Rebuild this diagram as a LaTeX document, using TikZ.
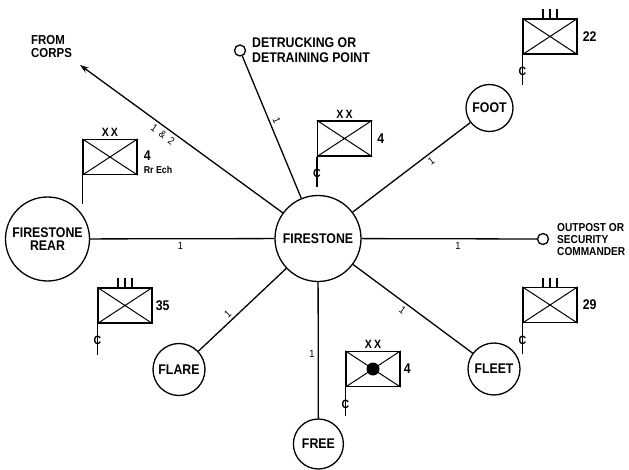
\documentclass[tikz,border=0pt]{standalone}
\usepackage{fontspec}
\setmainfont{Liberation Sans}[FakeStretch=0.88]
\usetikzlibrary{arrows.meta,positioning,calc}

\begin{document}
\begin{tikzpicture}[
  x=1pt, y=-1pt,
  post/.style={draw, circle, line width=1.3pt, inner sep=0pt, align=center, font=\bfseries\fontsize{14}{13}\selectfont},
  stop/.style={draw, circle, minimum size=11pt, inner sep=0pt, line width=1.3pt},
  unit/.style={draw, minimum width=54pt, minimum height=35pt, inner sep=0pt, line width=1.3pt},
  link/.style={line width=1.3pt},
  cross/.style={line width=1pt},
  rte/.style={sloped, font=\fontsize{10.5}{10}\selectfont, inner sep=3pt},
  note/.style={font=\bfseries\fontsize{14}{15}\selectfont, align=left, inner sep=0pt},
  echl/.style={font=\bfseries\fontsize{12}{12}\selectfont, inner sep=0pt},
  numl/.style={font=\bfseries\fontsize{14}{14}\selectfont, inner sep=0pt},
  cmark/.style={font=\bfseries\fontsize{12}{12}\selectfont, inner sep=0pt},
  arr/.style={-{Stealth[length=9pt, width=6pt]}, line width=1.3pt},
]
\useasboundingbox (0,0) rectangle (629,470);

% command posts
\node[post, minimum size=86pt] (fire) at (318,238.5) {FIRESTONE};
\node[post, minimum size=84pt] (rear) at (47.5,239) {FIRESTONE\\REAR};
\node[post, minimum size=47pt] (foot) at (489.5,108) {FOOT};
\node[post, minimum size=52pt] (flare) at (179,369.5) {FLARE};
\node[post, minimum size=52pt] (fleet) at (494,369) {FLEET};
\node[post, minimum size=50pt] (free) at (318.4,444) {FREE};
\node[stop] (detrain) at (240,50.5) {};
\node[stop] (outpost) at (543,239) {};
\coordinate (corps) at (80,65);

\node[note, font=\bfseries\fontsize{13}{13}\selectfont, anchor=north west] (corpslbl) at (31,35) {FROM\\CORPS};
\node[note, anchor=north west] (detrainlbl) at (252,38) {DETRUCKING OR\\DETRAINING POINT};
\node[note, font=\bfseries\fontsize{11.5}{12}\selectfont, anchor=north west] (outpostlbl) at (557,223) {OUTPOST OR\\SECURITY\\COMMANDER};

% lines of communication
\draw[link] (rear) -- node[rte, below, pos=0.49] {1} (fire);
\draw[link] (fire) -- node[rte, below, pos=0.55] {1} (outpost);
\draw[link] (fire) -- node[rte, below, pos=0.63] {1} (foot);
\draw[link] (fire) -- node[rte, above, pos=0.53] {1} (detrain);
\draw[link] (fire) -- node[rte, above, pos=0.61] {1} (flare);
\draw[link] (fire) -- node[rte, below, pos=0.45] {1} (fleet);
\draw[link] (fire) -- node[font=\fontsize{10.5}{10}\selectfont, left, pos=0.53, inner sep=3pt] {1} (free);
\draw[arr] (fire) -- node[rte, below, pos=0.57] {1\hspace{5pt}\&\hspace{5pt}2} (corps);

% unit flags
\node[unit] (u4rr) at (110,157) {};
\node[unit] (u22) at (550,36.5) {};
\node[unit] (u4) at (344.5,138.5) {};
\node[unit] (u35) at (125,305.5) {};
\node[unit] (u4d) at (373,369) {};
\node[unit] (u29) at (550,305) {};
\node[circle, fill, minimum size=13pt, inner sep=0pt] (dot) at (u4d.center) {};

\draw[cross] (u4rr.north west) -- (u4rr.south east) (u4rr.north east) -- (u4rr.south west);
\draw[cross] (u22.north west) -- (u22.south east) (u22.north east) -- (u22.south west);
\draw[cross] (u4.north west) -- (u4.south east) (u4.north east) -- (u4.south west);
\draw[cross] (u35.north west) -- (u35.south east) (u35.north east) -- (u35.south west);
\draw[cross] (u4d.north west) -- (u4d.south east) (u4d.north east) -- (u4d.south west);
\draw[cross] (u29.north west) -- (u29.south east) (u29.north east) -- (u29.south west);

\node[echl, above=2pt of u4rr] (xx4rr) {X\hspace{2pt}X};
\node[echl, above=2pt of u4] (xx4) {X\hspace{2pt}X};
\node[echl, above=2pt of u4d] (xx4d) {X\hspace{2pt}X};
\draw[link] ([xshift=-7pt]u22.north) -- ++(0,-9) (u22.north) -- ++(0,-9) ([xshift=7pt]u22.north) -- ++(0,-9);
\draw[link] ([xshift=-7pt]u35.north) -- ++(0,-9) (u35.north) -- ++(0,-9) ([xshift=7pt]u35.north) -- ++(0,-9);
\draw[link] ([xshift=-7pt]u29.north) -- ++(0,-9) (u29.north) -- ++(0,-9) ([xshift=7pt]u29.north) -- ++(0,-9);

\node[numl, right=6pt of u4rr, yshift=1pt] (n4rr) {4};
\node[echl, font=\bfseries\fontsize{10}{10}\selectfont, below=5pt of n4rr.south west, anchor=north west] (rrech) {Rr Ech};
\node[numl, right=5pt of u22] (n22) {22};
\node[numl, right=5pt of u4] (n4) {4};
\node[numl, right=3pt of u35] (n35) {35};
\node[numl, right=3pt of u4d] (n4d) {4};
\node[numl, right=5pt of u29] (n29) {29};

\node[cmark] (c22) at ($(u22.south west)+(0,17)$) {C};
\node[cmark] (c4) at ($(u4.south west)+(0,17)$) {C};
\node[cmark] (c35) at ($(u35.south west)+(0,17)$) {C};
\node[cmark] (c4d) at ($(u4d.south west)+(0,17)$) {C};
\node[cmark] (c29) at ($(u29.south west)+(0,17)$) {C};

\draw[link] (u4rr.south west) -- ++(0,29);
\draw[link] (u22.south west) -- ++(0,30);
\draw[link] (u4.south west) -- ++(0,30);
\draw[link] (u35.south west) -- ++(0,31);
\draw[link] (u4d.south west) -- ++(0,29);
\draw[link] (u29.south west) -- ++(0,31);
\end{tikzpicture}
\end{document}
